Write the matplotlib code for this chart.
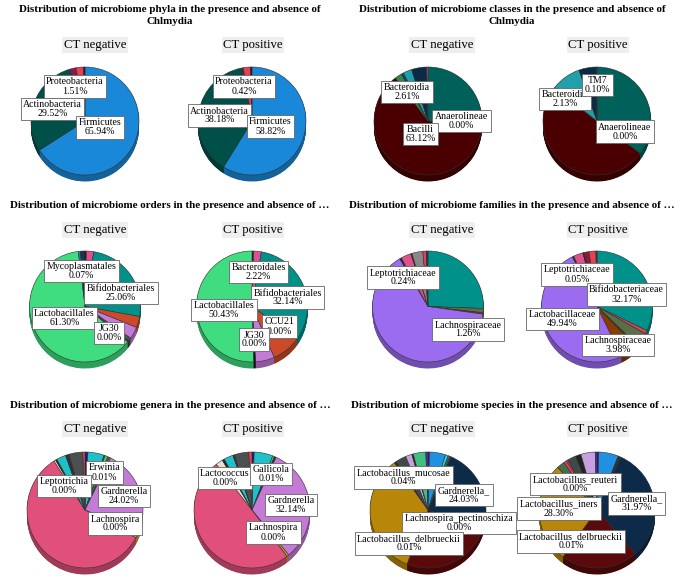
import numpy as np
import matplotlib.pyplot as plt
from matplotlib.colors import to_rgb

plt.rcParams['font.family'] = ['Liberation Serif', 'DejaVu Serif']

W, H = 685, 581

# ---------------- data (clockwise from 12 o'clock) ----------------
phyla_neg = [65.94, 29.52, 1.9, 2.2, 0.44]
phyla_neg_cols = ["#1a88d8", "#00504a", "#8b1850", "#e84050", "#222222"]
phyla_pos = [58.82, 38.18, 0.42, 2.1, 0.48]
phyla_pos_cols = ["#1a88d8", "#00504a", "#8b1850", "#e84050", "#222222"]

class_neg = [26.3, 0.3, 63.12, 2.1, 0.7, 2.61, 4.5, 0.4]
class_neg_cols = ["#00605a", "#e0407a", "#4a0000", "#2e8b3a", "#1a3a8a", "#20a0a8", "#0b2a45", "#c04060"]
class_pos = [35.3, 50.0, 0.3, 9.0, 5.3, 0.1]
class_pos_cols = ["#00605a", "#4a0000", "#2e8b3a", "#20a0a8", "#0b2a45", "#222222"]

order_neg = [0.4, 2.1, 25.06, 3.2, 3.5, 1.0, 0.3, 61.3, 0.6, 0.5, 0.5, 0.3]
order_neg_cols = ["#1a1a2a", "#e05090", "#00918a", "#cc4a2a", "#c57ad8", "#4a5550", "#111111",
                  "#40dc80", "#2080d0", "#1a2a6a", "#0a4a4a", "#111111"]
order_pos = [0.5, 2.22, 32.14, 8.6, 5.5, 0.6, 50.43]
order_pos_cols = ["#1a1a2a", "#e05090", "#00918a", "#cc4a2a", "#c57ad8", "#111111", "#40dc80"]

family_neg = [25.6, 1.26, 0.4, 64.4, 0.5, 3.0, 0.3, 3.2, 1.0, 0.5]
family_neg_cols = ["#00918a", "#5a6e4a", "#8b3a00", "#9b6cf0", "#1a2a4a", "#e0508a", "#222222",
                   "#888888", "#e84050", "#1a3a6a"]
family_pos = [32.17, 1.0, 3.98, 0.6, 5.0, 49.94, 0.4, 2.8, 0.3, 1.5, 2.0, 0.3]
family_pos_cols = ["#00918a", "#e84050", "#5a6e4a", "#2a4a2a", "#8b3a00", "#9b6cf0", "#1a2a4a",
                   "#e0508a", "#222222", "#8b1a3a", "#e84050", "#1a3a6a"]

genus_neg = [0.8, 4.5, 0.3, 0.8, 0.4, 0.4, 24.02, 1.5, 57.6, 0.5, 0.4, 2.6, 1.0, 3.8, 0.6]
genus_neg_cols = ["#0a1a8a", "#20c0c8", "#2a5a3a", "#40d070", "#a06030", "#777777", "#c57ad8",
                  "#c8a020", "#e0507a", "#e8e0c8", "#222222", "#20c0c8", "#333333", "#4a5050", "#e84050"]
genus_pos = [0.6, 5.2, 0.5, 0.5, 32.14, 0.6, 49.5, 2.0, 0.6, 2.6, 0.4, 4.0, 0.9]
genus_pos_cols = ["#0a1a8a", "#20c0c8", "#40d070", "#333333", "#c57ad8", "#c8a020", "#e0507a",
                  "#e8e0c8", "#222222", "#20c0c8", "#333333", "#4a5050", "#e84050"]

species_neg = [0.4, 4.5, 0.8, 0.5, 0.3, 24.03, 25.5, 34.4, 0.5, 3.0, 1.8, 0.4, 3.5, 0.6]
species_neg_cols = ["#1a1a6a", "#2090e0", "#30d0d0", "#1a8080", "#e84050", "#0d2a48", "#5a0a0a",
                    "#b8870a", "#222222", "#404848", "#c8a0e0", "#222222", "#40c080", "#6020c0"]
species_pos = [0.5, 5.5, 0.8, 31.97, 21.5, 28.3, 2.2, 0.8, 0.4, 2.5, 1.5, 4.0, 0.5]
species_pos_cols = ["#1a1a6a", "#2090e0", "#333333", "#0d2a48", "#5a0a0a", "#b8870a", "#4a6a4a",
                    "#e84050", "#e0508a", "#404848", "#222222", "#c8a0e0", "#6020c0"]

titles = [
    "Distribution of microbiome phyla in the presence and absence of\nChlmydia",
    "Distribution of microbiome classes in the presence and absence of\nChlmydia",
    "Distribution of microbiome orders in the presence and absence of \u2026",
    "Distribution of microbiome families in the presence and absence of \u2026",
    "Distribution of microbiome genera in the presence and absence of \u2026",
    "Distribution of microbiome species in the presence and absence of \u2026",
]

labels = {
    "phyla_neg": ["Proteobacteria\n1.51%", "Actinobacteria\n29.52%", "Firmicutes\n65.94%"],
    "phyla_pos": ["Proteobacteria\n0.42%", "Actinobacteria\n38.18%", "Firmicutes\n58.82%"],
    "class_neg": ["Bacteroidia\n2.61%", "Anaerolineae\n0.00%", "Bacilli\n63.12%"],
    "class_pos": ["Bacteroidia\n2.13%", "TM7\n0.10%", "Anaerolineae\n0.00%"],
    "order_neg": ["Mycoplasmatales\n0.07%", "Bifidobacteriales\n25.06%", "Lactobacillales\n61.30%", "JG30\n0.00%"],
    "order_pos": ["Bacteroidales\n2.22%", "Bifidobacteriales\n32.14%", "Lactobacillales\n50.43%",
                  "CCU21\n0.00%", "JG30\n0.00%"],
    "family_neg": ["Leptotrichiaceae\n0.24%", "Lachnospiraceae\n1.26%"],
    "family_pos": ["Leptotrichiaceae\n0.05%", "Bifidobacteriaceae\n32.17%", "Lactobacillaceae\n49.94%",
                   "Lachnospiraceae\n3.98%"],
    "genus_neg": ["Erwinia\n0.01%", "Leptotrichia\n0.00%", "Gardnerella\n24.02%", "Lachnospira\n0.00%"],
    "genus_pos": ["Lactococcus\n0.00%", "Gallicola\n0.01%", "Gardnerella\n32.14%", "Lachnospira\n0.00%"],
    "species_neg": ["Lactobacillus_mucosae\n0.04%", "Gardnerella_\n24.03%",
                    "Lachnospira_pectinoschiza\n0.00%", "Lactobacillus_delbrueckii\n0.01%"],
    "species_pos": ["Lactobacillus_reuteri\n0.00%", "Lactobacillus_iners\n28.30%", "Gardnerella_\n31.97%",
                    "Lactobacillus_delbrueckii\n0.01%"],
}

# ---------------- layout (pixels) ----------------
col_x = [85, 252, 428, 597]
row_cy = [121, 306.5, 510]
row_rx = [61.5, 68.5, 68.5]
row_ry = [54, 55.5, 58]
depth = 6.5
title_y = [15.5, 205, 405]
title_x = [170, 512]
sub_y = [45, 230, 429]
sub_x = [95, 253, 442, 598]

label_pos = {
    "phyla_neg": [(75, 86.5), (52.5, 109), (100, 127.5)],
    "phyla_pos": [(244, 86.5), (219.5, 115.5), (270.5, 126.5)],
    "class_neg": [(407, 92), (461.5, 121), (420.5, 134)],
    "class_pos": [(565, 99), (597.5, 85), (625, 131.5)],
    "order_neg": [(81.5, 271), (121, 293), (64.5, 318), (109, 333)],
    "order_pos": [(258.5, 272), (287.5, 297.5), (224, 310), (279.5, 326.5), (254, 339.5)],
    "family_neg": [(403, 277.5), (468, 329.5)],
    "family_pos": [(577, 274.5), (626.5, 294.5), (562.5, 319), (618, 345)],
    "genus_neg": [(104.5, 472.5), (64, 486), (124, 496), (115, 523.5)],
    "genus_pos": [(225, 478), (271, 474), (291, 505), (273.5, 532.5)],
    "species_neg": [(403.5, 477.5), (464, 495), (459, 523), (409, 543.5)],
    "species_pos": [(575.5, 484), (559, 508.5), (636.5, 503.5), (571, 541.5)],
}

fig = plt.figure(figsize=(W / 100, H / 100), dpi=100)


def fx(x):
    return x / W


def fy(y):
    return 1 - y / H


def pie3d(cx, cy, rx, ry, vals, cols):
    d = depth / ry
    ax = fig.add_axes([fx(cx - 1.1 * rx), fy(cy + 1.1 * ry + depth), 2.2 * rx / W, (2.2 * ry + depth) / H])
    dark = [tuple(c * 0.72 for c in to_rgb(col)) for col in cols]
    for off in np.linspace(d, 0, 14)[:-1]:
        ax.pie(vals, colors=dark, startangle=90, counterclock=False, center=(0, -off),
               wedgeprops=dict(linewidth=0))
    ax.pie(vals, colors=cols, startangle=90, counterclock=False,
           wedgeprops=dict(linewidth=0.4, edgecolor="#333333"))
    ax.set_xlim(-1.1, 1.1)
    ax.set_ylim(-1.1 - d, 1.1)
    ax.axis("off")
    return ax


panels = [
    ("phyla", phyla_neg, phyla_neg_cols, phyla_pos, phyla_pos_cols),
    ("class", class_neg, class_neg_cols, class_pos, class_pos_cols),
    ("order", order_neg, order_neg_cols, order_pos, order_pos_cols),
    ("family", family_neg, family_neg_cols, family_pos, family_pos_cols),
    ("genus", genus_neg, genus_neg_cols, genus_pos, genus_pos_cols),
    ("species", species_neg, species_neg_cols, species_pos, species_pos_cols),
]

for i, (key, vn, cn, vp, cp) in enumerate(panels):
    row, col = i // 2, i % 2
    fig.text(fx(title_x[col]), fy(title_y[row]), titles[i], ha="center", va="center",
             fontsize=7.95, fontweight="bold", linespacing=1.35)
    for j, (vals, cols, name) in enumerate([(vn, cn, "CT negative"), (vp, cp, "CT positive")]):
        c = col * 2 + j
        fig.text(fx(sub_x[c]), fy(sub_y[row]), name, ha="center", va="center", fontsize=9.2,
                 bbox=dict(boxstyle="square,pad=0.12", fc="#eeeeee", ec="none"))
        pie3d(col_x[c], row_cy[row], row_rx[row], row_ry[row], vals, cols)
        k = key + ("_neg" if j == 0 else "_pos")
        for txt, (lx, ly) in zip(labels[k], label_pos[k]):
            fig.text(fx(lx), fy(ly), txt, ha="center", va="center", fontsize=7.1, linespacing=1.0,
                     bbox=dict(boxstyle="square,pad=0.25", fc="white", ec="#666666", lw=0.6))

fig.savefig("out.png", dpi=100)
